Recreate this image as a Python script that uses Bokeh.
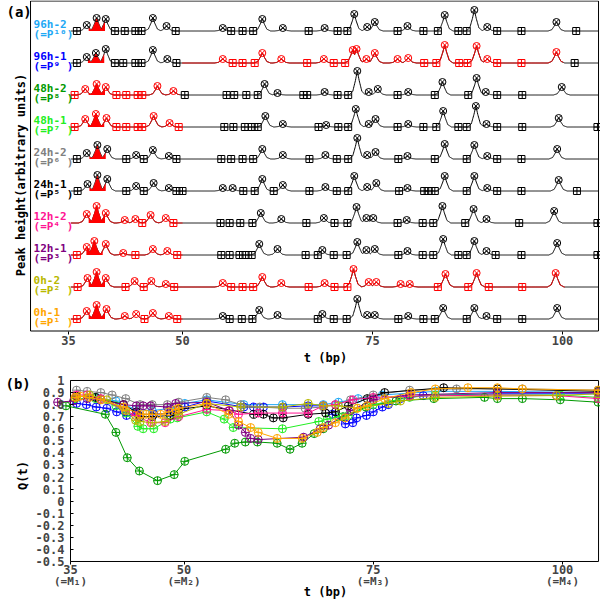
import numpy as np
from bokeh.plotting import figure
from bokeh.layouts import column
from bokeh.models import FixedTicker, CustomJSTickFormatter, ColumnDataSource, Range1d, LinearAxis
from bokeh.core.properties import value
from bokeh.embed import file_html
from bokeh.resources import INLINE

FONT = "DejaVu Sans Mono"

# samples, top to bottom in panel (a)
names = ["96h-2", "96h-1", "48h-2", "48h-1", "24h-2", "24h-1", "12h-2", "12h-1", "0h-2", "0h-1"]
subnames = ["(=P¹⁰)", "(=P⁹ )", "(=P⁸ )", "(=P⁷ )", "(=P⁶ )", "(=P⁵ )", "(=P⁴ )", "(=P³ )", "(=P² )", "(=P¹ )"]
colors = ["#1EA8F5", "#0000FF", "#009900", "#22EE22", "#808080", "#000000", "#FF1493", "#800080", "#B8B800", "#FFA500"]

# panel (a): marker positions (bp) and peak heights above baseline (arb. units)
pos_96h2 = [36.1, 37.4, 38.7, 39.9, 41.1, 42.4, 43.8, 44.6, 46.1, 47.9, 49.1,
            55.3, 56.4, 57.9, 59.3, 60.5, 63.2, 66.6, 68.7, 70.4, 71.7, 72.6, 74.3, 75.3,
            78.3, 79.6, 81.7, 83.6, 84.5, 86.3, 87.4, 88.4, 90.1, 91.4, 94.6, 99.2, 101.8]
hgt_96h2 = [0, 6, 13, 12, 0, 0, 0, 0, 13, 5, 0,
            3, 0, 0, 0, 12, 3, 0, 3, 0, 0, 17, 4, 9,
            0, 5, 0, 0, 16, 0, 0, 21, 4, 0, 0, 9, 0]

pos_96h1 = [36.1, 37.4, 38.6, 39.9, 41.1, 42.2, 43.8, 44.6, 46.1, 48.0, 49.2,
            55.3, 56.6, 57.9, 59.5, 60.5, 63.0, 66.4, 68.6, 69.9, 71.4, 72.4, 72.9, 74.2, 75.3,
            78.3, 79.7, 81.8, 83.4, 84.5, 86.4, 87.5, 88.7, 90.1, 91.4, 94.6, 99.2, 101.6]
hgt_96h1 = [0, 6, 10, 14, 0, 0, 0, 0, 13, 4, 0,
            4, 0, 0, 0, 10, 4, 0, 4, 0, 0, 13, 14, 4, 10,
            4, 5, 0, 0, 18, 0, 0, 17, 4, 0, 0, 11, 0]

pos_48h2 = [35.8, 37.2, 38.7, 39.9, 41.3, 42.6, 44.1, 44.7, 46.7, 48.8, 50.3,
            55.8, 56.8, 58.4, 59.9, 60.8, 62.5, 65.9, 66.4, 68.7, 70.4, 71.8, 73.0, 74.5, 75.7,
            78.3, 79.7, 83.2, 84.2, 87.6, 88.7, 89.9, 91.4, 94.7, 99.9]
hgt_48h2 = [0, 6, 11, 8, 0, 0, 0, 0, 9, 4, 0,
            0, 0, 0, 0, 11, 2, 0, 0, 3, 0, 0, 24, 3, 6,
            0, 3, 0, 13, 0, 17, 3, 0, 0, 8]

pos_48h1 = [35.8, 37.2, 38.6, 40.0, 41.3, 42.6, 44.1, 44.7, 46.2, 48.3, 49.5,
            55.5, 56.7, 58.2, 59.1, 59.9, 60.9, 63.2, 67.9, 68.9, 70.5, 71.8, 72.8, 74.5, 75.4,
            78.3, 79.7, 81.7, 83.4, 84.3, 86.3, 87.4, 88.6, 90.0, 91.4, 94.7, 99.5, 104.6]
hgt_48h1 = [0, 8, 13, 9, 0, 0, 0, 0, 11, 4, 0,
            0, 0, 0, 0, 0, 11, 3, 0, 2, 0, 0, 18, 3, 8,
            0, 3, 0, 0, 16, 0, 0, 21, 3, 0, 0, 9, 0]

pos_24h2 = [36.1, 37.4, 38.8, 40.1, 42.6, 43.9, 44.9, 46.1, 48.2, 49.2,
            55.1, 56.4, 57.9, 59.3, 60.5, 63.2, 66.7, 68.8, 70.3, 71.8, 73.0, 74.3, 75.4,
            78.4, 79.6, 83.2, 84.5, 87.4, 88.4, 90.1, 91.4, 94.6, 99.3]
hgt_24h2 = [0, 6, 14, 10, 0, 4, 0, 9, 3, 0,
            0, 0, 0, 0, 10, 4, 0, 4, 0, 0, 21, 4, 7,
            0, 3, 0, 15, 0, 14, 3, 0, 0, 10]

pos_24h1 = [36.2, 37.5, 38.8, 40.1, 42.6, 43.9, 44.9, 46.2, 48.2, 49.2, 50.0,
            55.3, 56.6, 58.0, 59.5, 60.5, 62.0, 63.2, 66.7, 68.8, 70.3, 71.8, 72.6, 74.3, 75.5,
            78.5, 79.6, 81.8, 82.4, 83.2, 84.5, 87.4, 88.4, 90.1, 91.4, 94.6, 99.5, 101.9]
hgt_24h1 = [0, 7, 16, 12, 0, 5, 0, 8, 3, 0, 0,
            3, 3, 0, 0, 12, 0, 6, 0, 4, 0, 0, 15, 4, 8,
            0, 3, 0, 0, 0, 15, 0, 15, 3, 0, 0, 11, 0]

pos_12h2 = [37.4, 38.7, 39.9, 42.4, 43.8, 44.7, 45.8, 47.8, 48.8,
            55.0, 56.2, 57.6, 59.2, 60.3, 63.0, 66.3, 68.6, 70.0, 71.7, 72.9, 74.2, 75.1,
            78.3, 79.5, 81.6, 83.0, 84.2, 87.2, 88.3, 90.0, 94.3, 98.9, 104.6]
hgt_12h2 = [9, 17, 10, 3, 4, 0, 8, 5, 0,
            0, 0, 0, 0, 10, 4, 0, 5, 0, 0, 16, 5, 5,
            0, 3, 0, 0, 17, 0, 14, 4, 0, 12, 0]

pos_12h1 = [36.1, 37.4, 38.4, 39.9, 42.2, 43.8, 46.1, 48.0, 49.3,
            55.1, 56.2, 57.5, 58.3, 59.1, 60.1, 62.5, 66.2, 67.8, 68.4, 69.9, 71.6, 73.0, 74.2, 75.3,
            78.4, 79.6, 81.6, 83.0, 84.3, 86.3, 87.4, 88.4, 90.0, 91.2, 94.6, 99.3, 104.6]
hgt_12h1 = [0, 8, 14, 11, 2, 0, 6, 4, 0,
            0, 0, 0, 0, 0, 11, 6, 0, 0, 5, 0, 0, 13, 5, 6,
            0, 4, 0, 0, 16, 0, 0, 14, 4, 0, 0, 12, 0]

pos_0h2 = [36.2, 37.5, 38.7, 39.9, 42.5, 43.7, 44.9, 45.9, 47.8, 48.9,
           55.3, 56.4, 57.9, 59.3, 60.5, 63.0, 66.6, 68.7, 70.0, 71.7, 72.5, 74.5, 75.5,
           78.7, 79.9, 83.6, 84.6, 87.6, 88.7, 90.3, 94.7, 99.1]
hgt_0h2 = [0, 9, 15, 9, 0, 6, 0, 6, 3, 0,
           4, 0, 0, 0, 10, 4, 0, 4, 0, 0, 18, 5, 5,
           3, 3, 0, 13, 0, 14, 0, 0, 14]

pos_0h1 = [36.1, 37.4, 38.7, 40.0, 42.4, 43.9, 45.0, 46.1, 48.2, 49.3,
           55.3, 56.2, 57.8, 59.2, 60.1, 62.5, 67.8, 68.4, 69.9, 71.6, 73.0, 74.3, 75.3,
           78.4, 79.7, 81.7, 83.2, 84.3, 87.4, 88.4, 90.0, 91.4, 94.7, 99.3]
hgt_0h1 = [0, 8, 14, 10, 3, 5, 0, 6, 3, 0,
           3, 0, 0, 0, 9, 4, 0, 5, 0, 0, 20, 4, 4,
           0, 3, 0, 0, 11, 0, 11, 3, 0, 0, 11]

positions = [pos_96h2, pos_96h1, pos_48h2, pos_48h1, pos_24h2, pos_24h1, pos_12h2, pos_12h1, pos_0h2, pos_0h1]
heights = [hgt_96h2, hgt_96h1, hgt_48h2, hgt_48h1, hgt_24h2, hgt_24h1, hgt_12h2, hgt_12h1, hgt_0h2, hgt_0h1]
red_ranges = [None, (49.9, 100.1), (35.0, 49.6), (35.0, 49.9), None, None,
              (35.0, 50.0), (35.0, 50.0), (35.0, 100.3), (35.0, 50.0)]

# panel (b): Q(t)
qx_96h2 = [35.8, 38.4, 41.0, 43.6, 45.8, 48.2, 50.1, 53.0, 57.9, 63.0, 68.4, 70.4, 73.0, 76.2, 83.2, 91.4, 104.7]
qy_96h2 = [0.87, 0.86, 0.83, 0.76, 0.75, 0.77, 0.81, 0.84, 0.80, 0.80, 0.80, 0.82, 0.85, 0.88, 0.91, 0.91, 0.90]
qx_96h1 = [35.8, 37.1, 38.4, 39.8, 41.1, 42.4, 43.9, 46.0, 48.2, 50.1, 53.0, 57.9, 59.2, 60.5, 63.1, 66.4, 68.4,
           69.6, 71.3, 72.3, 72.8, 74.1, 75.0, 76.2, 77.0, 78.6, 81.6, 91.4, 104.7]
qy_96h1 = [0.81, 0.80, 0.78, 0.77, 0.74, 0.71, 0.72, 0.72, 0.73, 0.78, 0.83, 0.78, 0.78, 0.78, 0.78, 0.79, 0.79,
           0.72, 0.64, 0.65, 0.69, 0.71, 0.74, 0.78, 0.80, 0.85, 0.875, 0.89, 0.89]
qx_48h2 = [34.4, 39.6, 41.0, 42.5, 44.1, 46.5, 48.7, 50.1, 55.5, 56.7, 58.1, 59.7, 62.3, 64.0, 65.6, 67.2, 68.4,
           71.0, 74.0, 78.0, 83.0, 89.7, 91.4, 94.7, 99.7, 104.7]
qy_48h2 = [0.79, 0.72, 0.57, 0.36, 0.25, 0.17, 0.22, 0.33, 0.43, 0.48, 0.49, 0.49, 0.48, 0.43, 0.48, 0.56, 0.60,
           0.70, 0.78, 0.83, 0.85, 0.86, 0.85, 0.85, 0.84, 0.82]
qx_48h1 = [35.6, 38.3, 41.0, 42.3, 43.9, 44.6, 46.0, 48.2, 49.1, 53.0, 55.3, 56.5, 63.0, 67.8, 68.9, 70.4,
           71.7, 75.0, 79.8, 83.2, 91.4, 99.7, 104.7]
qy_48h1 = [0.85, 0.85, 0.79, 0.73, 0.62, 0.60, 0.60, 0.68, 0.69, 0.74, 0.68, 0.61, 0.60, 0.66, 0.68, 0.70,
           0.71, 0.80, 0.86, 0.88, 0.88, 0.88, 0.86]
qx_24h2 = [35.8, 37.2, 39.0, 40.5, 42.3, 44.2, 45.8, 47.8, 49.3, 53.0, 55.5, 57.5, 60.0, 63.0, 66.0, 68.4,
           70.0, 72.0, 75.0, 79.8, 86.0, 94.7, 104.7]
qy_24h2 = [0.92, 0.91, 0.90, 0.88, 0.85, 0.80, 0.80, 0.80, 0.82, 0.86, 0.84, 0.80, 0.78, 0.77, 0.77, 0.78,
           0.80, 0.84, 0.88, 0.92, 0.93, 0.93, 0.92]
qx_24h1 = [35.8, 38.3, 42.0, 43.7, 44.2, 45.8, 48.2, 49.3, 53.0, 59.2, 60.5, 61.8, 63.1, 66.4, 68.7, 70.0,
           71.7, 74.2, 76.5, 84.3, 91.4, 104.7]
qy_24h1 = [0.87, 0.86, 0.80, 0.74, 0.70, 0.70, 0.71, 0.76, 0.79, 0.72, 0.72, 0.69, 0.69, 0.72, 0.73, 0.74,
           0.79, 0.85, 0.90, 0.94, 0.93, 0.91]
qx_12h2 = [35.8, 37.2, 39.0, 42.3, 43.6, 45.6, 47.5, 49.3, 53.0, 55.9, 57.2, 59.8, 63.0, 66.4, 68.4, 70.0,
           72.3, 75.0, 79.8, 91.4, 99.2, 104.7]
qy_12h2 = [0.88, 0.88, 0.85, 0.75, 0.71, 0.65, 0.65, 0.70, 0.76, 0.75, 0.72, 0.73, 0.73, 0.73, 0.79, 0.80,
           0.84, 0.86, 0.87, 0.88, 0.875, 0.85]
qx_12h1 = [33.3, 35.4, 37.2, 39.0, 42.0, 43.7, 44.6, 45.6, 47.8, 48.9, 53.0, 56.0, 57.2, 58.1, 58.8, 59.8,
           65.8, 68.0, 69.1, 72.0, 75.0, 79.8, 91.4, 104.7]
qy_12h1 = [0.82, 0.83, 0.85, 0.84, 0.80, 0.79, 0.79, 0.79, 0.78, 0.81, 0.82, 0.75, 0.63, 0.57, 0.52, 0.51,
           0.53, 0.60, 0.63, 0.75, 0.84, 0.88, 0.90, 0.90]
qx_0h2 = [35.8, 37.5, 39.8, 42.3, 43.6, 44.2, 45.8, 47.5, 49.3, 53.0, 57.5, 63.0, 66.4, 68.4, 70.4, 72.9,
          77.0, 78.6, 83.2, 91.4, 99.2, 104.7]
qy_0h2 = [0.86, 0.88, 0.84, 0.75, 0.67, 0.66, 0.65, 0.66, 0.72, 0.81, 0.78, 0.78, 0.81, 0.79, 0.79, 0.77,
          0.81, 0.83, 0.86, 0.87, 0.875, 0.89]
qx_0h1 = [35.6, 36.3, 37.5, 39.0, 42.0, 44.2, 45.0, 45.8, 46.9, 48.0, 48.9, 49.3, 53.0, 55.9, 57.2, 58.8,
          59.8, 62.3, 65.6, 67.6, 68.4, 70.0, 71.3, 72.9, 74.2, 76.5, 80.0, 83.2, 87.5, 91.4, 94.7, 104.7]
qy_0h1 = [0.86, 0.87, 0.86, 0.84, 0.78, 0.72, 0.72, 0.72, 0.72, 0.74, 0.76, 0.77, 0.81, 0.72, 0.66, 0.61,
          0.57, 0.52, 0.52, 0.57, 0.61, 0.65, 0.69, 0.77, 0.79, 0.85, 0.90, 0.93, 0.94, 0.94, 0.93, 0.92]

q_x = [qx_96h2, qx_96h1, qx_48h2, qx_48h1, qx_24h2, qx_24h1, qx_12h2, qx_12h1, qx_0h2, qx_0h1]
q_y = [qy_96h2, qy_96h1, qy_48h2, qy_48h1, qy_24h2, qy_24h1, qy_12h2, qy_12h1, qy_0h2, qy_0h1]

t_ticks = [35, 50, 75, 100]
m_labels = {35: "(=M₁)", 50: "(=M₂)", 75: "(=M₃)", 100: "(=M₄)"}
q_ticks = [-0.5, -0.4, -0.3, -0.2, -0.1, 0.0, 0.1, 0.2, 0.3, 0.4, 0.5, 0.6, 0.7, 0.8, 0.9, 1.0]


def style_axis(ax, size="12px"):
    ax.major_label_text_font = FONT
    ax.major_label_text_font_style = "bold"
    ax.major_label_text_font_size = size
    ax.axis_line_color = None
    ax.minor_tick_line_color = None
    ax.major_tick_line_color = "black"


def style_fig(p):
    p.xgrid.visible = False
    p.ygrid.visible = False
    p.outline_line_color = None
    p.background_fill_color = "white"
    p.border_fill_color = "white"


def bold_text(p, x, y, s, size, angle=0.0, align="left", baseline="middle"):
    p.text(x=[x], y=[y], text=[s], angle=angle, text_font=value(FONT), text_font_style="bold",
           text_font_size=size, text_align=align, text_baseline=baseline, text_color="black")


# ---------------- panel (a)
p1 = figure(width=600, height=368, output_backend="svg", toolbar_location=None,
            x_range=Range1d(26.05, 105.0), y_range=Range1d(-37.5, 330.5),
            min_border_left=0, min_border_right=0, min_border_top=0, min_border_bottom=0)
style_fig(p1)
style_axis(p1.xaxis[0])
p1.xaxis.fixed_location = 0
p1.xaxis.ticker = FixedTicker(ticks=t_ticks)
p1.xaxis.major_tick_out = 3
p1.xaxis.major_tick_in = 0
p1.xaxis.major_label_standoff = 2
p1.yaxis.visible = False

p1.quad(left=30, right=104.74, bottom=0, top=330, fill_color=None, line_color="black", line_width=1)

shape_dx = np.array([-1.1, -0.6, -0.25, 0.0, 0.25, 0.6, 1.1])
shape_f = np.array([0.0, 0.15, 0.6, 1.0, 0.6, 0.15, 0.0])
xs = np.arange(35.3, 104.71, 0.05)

for i in range(10):
    b = 300 - 32 * i
    pos = np.array(positions[i])
    hgt = np.array(heights[i], dtype=float)
    prof = np.zeros_like(xs)
    for pk, h in zip(pos, hgt):
        if h > 0:
            prof = np.maximum(prof, h * np.interp(xs, pk + shape_dx, shape_f, left=0, right=0))
    yline = b + prof
    p1.line(xs, yline, line_color="black", line_width=1)
    rr = red_ranges[i]
    if rr is not None:
        m = (xs >= rr[0]) & (xs <= rr[1])
        p1.line(xs[m], yline[m], line_color="red", line_width=1)

    # filled peak
    big = [k for k in range(len(pos)) if hgt[k] > 0]
    k0 = min(big, key=lambda k: abs(pos[k] - 38.7))
    mf = (xs >= pos[k0] - 1.1) & (xs <= pos[k0] + 1.1)
    p1.varea(x=xs[mf], y1=np.full(mf.sum(), b), y2=yline[mf], fill_color="red")

    is_red = np.array([rr is not None and rr[0] <= x <= rr[1] for x in pos])
    mcol = np.where(is_red, "red", "black")
    flat = hgt == 0
    p1.scatter(pos[flat], b + hgt[flat], marker="square_cross", size=7,
               line_color=list(mcol[flat]), fill_color=None, line_width=1)
    p1.scatter(pos[~flat], b + hgt[~flat], marker="circle_x", size=7,
               line_color=list(mcol[~flat]), fill_color=None, line_width=1)

lab_src = ColumnDataSource(dict(
    x=[30.4] * 20,
    y=[300 - 32 * i + 6.5 for i in range(10)] + [300 - 32 * i - 3.5 for i in range(10)],
    text=names + subnames,
    color=colors + colors,
))
p1.text(x="x", y="y", text="text", text_color="color", source=lab_src,
        text_font=value(FONT), text_font_style="bold", text_font_size="11px",
        text_baseline="middle", text_align="left")

bold_text(p1, 26.84, 327, "(a)", "14px", baseline="top")
bold_text(p1, 28.81, 156, "Peak height(arbitrary units)", "12px", angle=np.pi / 2, align="center")
bold_text(p1, 68.81, -27, "t (bp)", "12px", align="center")

# ---------------- panel (b)
p2 = figure(width=600, height=232, output_backend="svg", toolbar_location=None,
            x_range=Range1d(25.752, 105.02), y_range=Range1d(-0.8232, 1.0994),
            min_border_left=0, min_border_right=0, min_border_top=0, min_border_bottom=0)
style_fig(p2)
style_axis(p2.xaxis[0])
style_axis(p2.yaxis[0])
p2.xaxis.fixed_location = -0.5
p2.xaxis.ticker = FixedTicker(ticks=t_ticks)
p2.xaxis.major_tick_out = 3
p2.xaxis.major_tick_in = 0
p2.xaxis.major_label_standoff = 1

m_axis = LinearAxis(ticker=FixedTicker(ticks=t_ticks), major_label_overrides=m_labels,
                    fixed_location=-0.616)
style_axis(m_axis, "11px")
m_axis.major_tick_line_color = None
m_axis.major_tick_in = 0
m_axis.major_tick_out = 0
m_axis.major_label_standoff = 0
p2.add_layout(m_axis, "below")

p2.yaxis.fixed_location = 35
p2.yaxis.ticker = FixedTicker(ticks=q_ticks)
p2.yaxis.formatter = CustomJSTickFormatter(code="""
var s = tick.toFixed(1);
if (s == "1.0") return "1";
if (s == "0.0" || s == "-0.0") return "0";
return s;
""")
p2.yaxis.major_tick_in = 3
p2.yaxis.major_tick_out = 0
p2.yaxis.major_label_standoff = 6

p2.quad(left=35, right=104.76, bottom=-0.5, top=1.0, fill_color=None, line_color="black", line_width=1)

for i in range(10):
    p2.line(q_x[i], q_y[i], line_color=colors[i], line_width=1)
    p2.scatter(q_x[i], q_y[i], marker="circle_cross", size=8, line_color=colors[i],
               fill_color=None, line_width=1)

bold_text(p2, 26.41, 0.975, "(b)", "14px")
bold_text(p2, 28.66, 0.213, "Q(t)", "12px", angle=np.pi / 2, align="center")
bold_text(p2, 68.69, -0.749, "t (bp)", "12px", align="center")

page = column(p1, p2)
open("out.html", "w").write(file_html(page, INLINE))
